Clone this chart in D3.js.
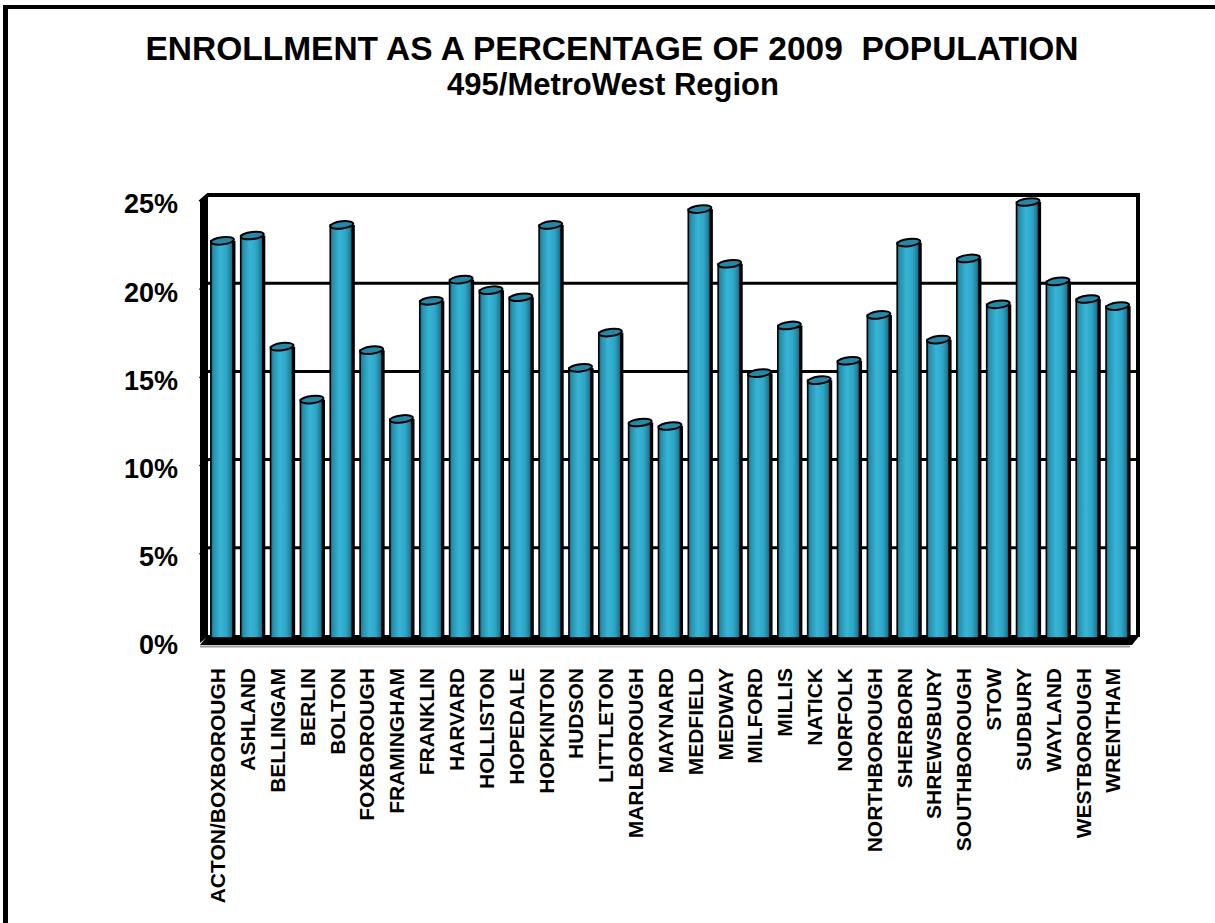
<!DOCTYPE html>
<html>
<head>
<meta charset="utf-8">
<script src="https://cdn.jsdelivr.net/npm/d3@7"></script>
<style>
  html, body { margin: 0; padding: 0; background: #fff; }
  svg { display: block; }
  text { font-family: "Liberation Sans", Arial, sans-serif; font-weight: bold; fill: #000; white-space: pre; }
</style>
</head>
<body>
<svg id="chart" width="1215" height="923"></svg>
<script>
// Enrollment as a share of 2009 population, by community
const towns = [
  "ACTON/BOXBOROUGH", "ASHLAND", "BELLINGAM", "BERLIN", "BOLTON", "FOXBOROUGH",
  "FRAMINGHAM", "FRANKLIN", "HARVARD", "HOLLISTON", "HOPEDALE", "HOPKINTON",
  "HUDSON", "LITTLETON", "MARLBOROUGH", "MAYNARD", "MEDFIELD", "MEDWAY",
  "MILFORD", "MILLIS", "NATICK", "NORFOLK", "NORTHBOROUGH", "SHERBORN",
  "SHREWSBURY", "SOUTHBOROUGH", "STOW", "SUDBURY", "WAYLAND", "WESTBOROUGH",
  "WRENTHAM"
];
const enrollmentPct = [
  22.4, 22.7, 16.4, 13.4, 23.3, 16.2,
  12.3, 19.0, 20.2, 19.6, 19.2, 23.3,
  15.2, 17.2, 12.1, 11.9, 24.2, 21.1,
  14.9, 17.6, 14.5, 15.6, 18.2, 22.3,
  16.8, 21.4, 18.8, 24.6, 20.1, 19.1,
  18.7
];
const yTicks = [0, 5, 10, 15, 20, 25];

const titleText = "ENROLLMENT AS A PERCENTAGE OF 2009  POPULATION";
const subtitleText = "495/MetroWest Region";

const svg = d3.select("#chart");

// page frame (heavy left and top rules)
svg.append("rect").attr("x", 3).attr("y", 5).attr("width", 1212).attr("height", 4).attr("fill", "#000");
svg.append("rect").attr("x", 3).attr("y", 5).attr("width", 5).attr("height", 918).attr("fill", "#000");

// titles
svg.append("text").attr("x", 612).attr("y", 60).attr("text-anchor", "middle")
  .style("font-size", "33.5px").text(titleText);
svg.append("text").attr("x", 613).attr("y", 95).attr("text-anchor", "middle")
  .style("font-size", "31px").text(subtitleText);

// plot geometry: back wall plus a shallow depth offset toward the viewer
const wallL = 208, wallR = 1138, wallTop = 195, wallBottom = 636;
const depthX = -8, depthY = 7;

const y = d3.scaleLinear().domain([0, 25]).range([wallBottom, wallTop]);
const x = d3.scaleBand().domain(towns).range([207, 1132]).paddingInner(0.26).paddingOuter(0.13);

const defs = svg.append("defs");
const grad = defs.append("linearGradient").attr("id", "cyl").attr("x1", 0).attr("x2", 1).attr("y1", 0).attr("y2", 0);
[[0, "#17627a"], [0.12, "#2590ae"], [0.42, "#38b4d4"], [0.7, "#2ea7c7"], [0.9, "#1f7f9b"], [1, "#135468"]]
  .forEach(([o, c]) => grad.append("stop").attr("offset", o).attr("stop-color", c));

const plot = svg.append("g");

// side wall (left) and floor
plot.append("path")
  .attr("d", `M${wallL + depthX},${wallTop + depthY}L${wallL},${wallTop}L${wallL},${wallBottom}L${wallL + depthX},${wallBottom + depthY}Z`)
  .attr("fill", "#000");
plot.append("path")
  .attr("d", `M${wallL + depthX},${wallBottom + depthY + 2}L${wallL},${wallBottom - 1}L${wallR + 2},${wallBottom - 1}L${wallR + 2 + depthX},${wallBottom + depthY + 2}Z`)
  .attr("fill", "#000");
plot.append("line")
  .attr("x1", wallL + depthX).attr("x2", wallR + depthX)
  .attr("y1", wallBottom + depthY + 3.5).attr("y2", wallBottom + depthY + 3.5)
  .attr("stroke", "#9a9a9a").attr("stroke-width", 2);

// gridlines on the back wall and across the side wall
const grid = plot.append("g");
yTicks.filter(t => t > 0).forEach(t => {
  const gy = y(t);
  grid.append("path")
    .attr("d", `M${wallL + depthX},${gy + depthY}L${wallL},${gy}L${wallR},${gy}`)
    .attr("fill", "none").attr("stroke", "#000")
    .attr("stroke-width", t === 25 ? 4 : 3);
});
// right edge of the back wall
plot.append("line").attr("x1", wallR).attr("x2", wallR)
  .attr("y1", wallTop - 2).attr("y2", wallBottom + 1)
  .attr("stroke", "#000").attr("stroke-width", 4);

// y tick labels, set on the front plane
svg.append("g").selectAll("text").data(yTicks).join("text")
  .attr("x", 178).attr("y", d => y(d) + depthY + 2)
  .attr("dy", "0.35em").attr("text-anchor", "end")
  .style("font-size", "27px")
  .text(d => d + "%");

// cylinder bars
const bw = x.bandwidth();
const bars = plot.append("g").selectAll("g").data(towns.map((t, i) => ({ t, v: enrollmentPct[i] }))).join("g")
  .attr("transform", d => `translate(${x(d.t)},0)`);

bars.append("rect")
  .attr("x", bw)
  .attr("y", d => y(d.v))
  .attr("width", 2.5)
  .attr("height", d => wallBottom + 2 - y(d.v))
  .attr("fill", "#000");
bars.append("rect")
  .attr("x", 0)
  .attr("y", d => y(d.v))
  .attr("width", bw)
  .attr("height", d => wallBottom + 2 - y(d.v))
  .attr("fill", "url(#cyl)")
  .attr("stroke", "#000").attr("stroke-width", 1.6);
bars.append("ellipse")
  .attr("cx", bw / 2 + 0.5)
  .attr("cy", d => y(d.v))
  .attr("rx", bw / 2 + 0.5).attr("ry", 3.6)
  .attr("transform", d => `rotate(-7 ${bw / 2} ${y(d.v)})`)
  .attr("fill", "#2488a6")
  .attr("stroke", "#000").attr("stroke-width", 2);

// category labels, rotated
svg.append("g").selectAll("text").data(towns).join("text")
  .attr("transform", d => `translate(${x(d) + bw / 2 - 4},668) rotate(-90)`)
  .attr("dy", "0.35em").attr("text-anchor", "end")
  .style("font-size", "21px")
  .text(d => d);
</script>
</body>
</html>
